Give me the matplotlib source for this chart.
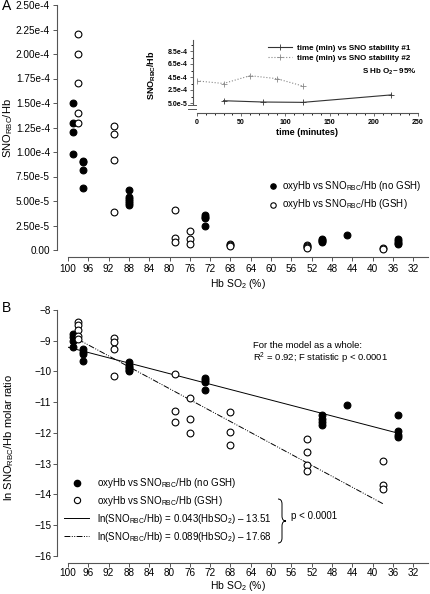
import matplotlib
matplotlib.use("Agg")
import matplotlib.pyplot as plt
from matplotlib.lines import Line2D
from matplotlib.path import Path
from matplotlib.patches import PathPatch
import numpy as np

plt.rcParams['font.family'] = ['Liberation Sans', 'DejaVu Sans']
plt.rcParams['mathtext.fontset'] = 'custom'
plt.rcParams['mathtext.rm'] = 'Liberation Sans'
plt.rcParams['mathtext.bf'] = 'Liberation Sans:bold'
plt.rcParams['mathtext.it'] = 'Liberation Sans:italic'

# ---- panel A : SNO_RBC/Hb vs Hb SO2 ----
so2_nogsh = [99, 99, 99, 99, 97, 97, 97, 97, 88, 88, 88, 88, 88, 88,
             73, 73, 73, 73, 50, 50, 50, 50, 45, 35, 35, 35, 35]
sno_nogsh = [1.50e-4, 1.30e-4, 1.20e-4, 0.98e-4, 0.91e-4, 0.90e-4, 0.82e-4, 0.63e-4,
             0.61e-4, 0.54e-4, 0.52e-4, 0.50e-4, 0.48e-4, 0.46e-4,
             0.36e-4, 0.34e-4, 0.33e-4, 0.25e-4,
             0.11e-4, 0.10e-4, 0.09e-4, 0.08e-4, 0.15e-4,
             0.11e-4, 0.09e-4, 0.07e-4, 0.06e-4]
so2_gsh = [98, 98, 98, 98, 98, 91, 91, 91, 91, 79, 79, 79, 76, 76, 76,
           68, 68, 68, 53, 53, 53, 53, 38, 38]
sno_gsh = [2.20e-4, 2.00e-4, 1.70e-4, 1.40e-4, 1.30e-4,
           1.27e-4, 1.18e-4, 0.92e-4, 0.39e-4,
           0.41e-4, 0.12e-4, 0.08e-4, 0.19e-4, 0.11e-4, 0.06e-4,
           0.06e-4, 0.05e-4, 0.04e-4, 0.05e-4, 0.04e-4, 0.03e-4, 0.02e-4,
           0.02e-4, 0.01e-4]
yticks_a = [0, 2.5e-5, 5e-5, 7.5e-5, 1e-4, 1.25e-4, 1.5e-4, 1.75e-4, 2e-4, 2.25e-4, 2.5e-4]
ytick_labels_a = ['0.00', '2.50e-5', '5.00e-5', '7.50e-5', '1.00e-4', '1.25e-4',
                  '1.50e-4', '1.75e-4', '2.00e-4', '2.25e-4', '2.50e-4']
xticks = list(range(100, 31, -4))

# inset: stability over time
time1 = [30, 75, 120, 220]
stab1 = [8.5e-5, 6.5e-5, 6.0e-5, 1.75e-4]
time2 = [0, 30, 60, 90, 120]
stab2 = [3.9e-4, 3.5e-4, 4.7e-4, 4.25e-4, 3.1e-4]
yticks_in = [5e-5, 2.5e-4, 4.5e-4, 6.5e-4, 8.5e-4]
ytick_labels_in = ['5.0e-5', '2.5e-4', '4.5e-4', '6.5e-4', '8.5e-4']

# ---- panel B : ln SNO_RBC/Hb vs Hb SO2 ----
ln_so2_nogsh = [99, 99, 99, 99, 97, 97, 97, 97, 88, 88, 88, 88, 88, 88,
                73, 73, 73, 73, 50, 50, 50, 50, 45, 35, 35, 35, 35]
ln_nogsh = [-8.77, -8.87, -9.0, -9.2, -9.27, -9.35, -9.42, -9.65,
            -9.7, -9.78, -9.85, -9.9, -9.95, -10.0,
            -10.2, -10.27, -10.33, -10.6,
            -11.4, -11.55, -11.65, -11.75, -11.1,
            -11.4, -11.95, -12.05, -12.13]
ln_so2_gsh = [98, 98, 98, 98, 98, 91, 91, 91, 91, 79, 79, 79, 76, 76, 76,
              68, 68, 68, 53, 53, 53, 53, 38, 38, 38]
ln_gsh = [-8.4, -8.5, -8.65, -8.85, -8.95, -8.92, -9.03, -9.27, -10.14,
          -10.08, -11.28, -11.64, -10.86, -11.55, -12.0,
          -11.31, -11.96, -12.39, -12.2, -12.62, -13.04, -13.23,
          -12.9, -13.7, -13.82]
fit_slope = [0.043, 0.089]
fit_icpt = [-13.51, -17.68]
fit_from = [100, 98]
fit_to = [35, 38]
yticks_b = list(range(-16, -7))

W, H = 430, 594
fig = plt.figure(figsize=(W / 100, H / 100), dpi=100)


def box(x0, y0, x1, y1):
    # pixel box (top-left origin) -> figure fraction rect
    return [x0 / W, 1 - y1 / H, (x1 - x0) / W, (y1 - y0) / H]


def fxy(x, y):
    return (x / W, 1 - y / H)


def style_axes(ax, left_off, bottom_off, size=7.2, pad=2):
    for s in ['top', 'right']:
        ax.spines[s].set_visible(False)
    for s in ['left', 'bottom']:
        ax.spines[s].set_color('#555555')
        ax.spines[s].set_linewidth(0.8)
    ax.spines['left'].set_position(('outward', left_off))
    ax.spines['bottom'].set_position(('outward', bottom_off))
    ax.tick_params(direction='out', length=3, width=0.7, color='#555555',
                   labelsize=size, pad=pad)
    ax.patch.set_visible(False)


mk = dict(s=24, linewidths=0.8, clip_on=False, zorder=3)

# panel A
axA = fig.add_axes(box(68, 5, 428, 250))
style_axes(axA, 8, 5)
axA.scatter(so2_nogsh, sno_nogsh, facecolor='black', edgecolor='black', **mk,
            label=r'oxyHb vs SNO$_{\mathrm{RBC}}$/Hb (no GSH)')
axA.scatter(so2_gsh, sno_gsh, facecolor='white', edgecolor='black', **mk,
            label=r'oxyHb vs SNO$_{\mathrm{RBC}}$/Hb (GSH)')
axA.set_xlim(100, 29.1)
axA.set_ylim(0, 2.5e-4)
axA.set_xticks(xticks)
axA.set_yticks(yticks_a)
axA.set_yticklabels(ytick_labels_a)
axA.legend(loc='upper left', bbox_to_anchor=fxy(268, 179), bbox_transform=fig.transFigure,
           frameon=False, fontsize=7, handlelength=1, handletextpad=0.4,
           labelspacing=0.45, borderpad=0, borderaxespad=0, markerscale=0.8)

# inset
axI = fig.add_axes(box(197, 40, 418, 113))
style_axes(axI, 3, 0, size=5)
axI.plot(time1, stab1, color='#333333', lw=0.8, marker='+', ms=4, mew=0.6,
         label='time (min) vs SNO stability #1')
axI.plot(time2, stab2, color='#888888', lw=0.8, ls=':', marker='+', ms=4, mew=0.6,
         label='time (min) vs SNO stability #2')
axI.set_xlim(0, 250)
axI.set_ylim(5e-5 - 10 * 2e-4 / 13, 5e-5 + 63 * 2e-4 / 13)
axI.spines['left'].set_bounds(3e-5, 5e-5 + 63 * 2e-4 / 13)
axI.set_xticks(range(0, 251, 50))
axI.set_xticks(range(0, 251, 10), minor=True)
axI.set_yticks(yticks_in)
axI.set_yticklabels(ytick_labels_in)
axI.set_yticks(np.arange(1.5e-4, 9.6e-4, 2e-4), minor=True)
axI.tick_params(which='both', length=2, width=0.6)
axI.tick_params(which='minor', length=1.2)
for lab in axI.get_xticklabels() + axI.get_yticklabels():
    lab.set_fontweight('bold')
axI.set_xlabel('time (minutes)', fontsize=6.5, fontweight='bold', labelpad=2)
axI.legend(loc='upper left', bbox_to_anchor=fxy(268, 44), bbox_transform=fig.transFigure,
           frameon=False, prop={'weight': 'bold', 'size': 5.8}, handlelength=3,
           handletextpad=0.6, labelspacing=0.35, borderpad=0, borderaxespad=0)
fig.text(*fxy(417, 72), r'S Hb O$_{\mathbf{2}}$~ 95%', fontsize=5.8, fontweight='bold',
         ha='right', va='center')
fig.text(*fxy(152, 75), r'SNO$_{\mathbf{RBC}}$/Hb', fontsize=6.5, fontweight='bold',
         rotation=90, ha='center', va='center')
# axis break marks on inset y axis
for yb in (105, 109):
    fig.add_artist(Line2D([188 / W, 196 / W], [1 - yb / H, 1 - yb / H],
                          transform=fig.transFigure, color='#555555', lw=0.7))

# panel B
axB = fig.add_axes(box(68, 310, 428, 556))
style_axes(axB, 8, 5, pad=1)
axB.scatter(ln_so2_nogsh, ln_nogsh, facecolor='black', edgecolor='black', **mk)
axB.scatter(ln_so2_gsh, ln_gsh, facecolor='white', edgecolor='black', **mk)
dashdot = (0, (6, 1.5, 1, 1.5, 1, 1.5))
for k, ls in enumerate(['-', dashdot]):
    xs = np.array([fit_from[k], fit_to[k]])
    axB.plot(xs, fit_slope[k] * xs + fit_icpt[k], color='black', lw=0.7, ls=ls)
axB.set_xlim(100, 29.1)
axB.set_ylim(-16, -8)
axB.set_xticks(xticks)
axB.set_yticks(yticks_b)

hB = [Line2D([], [], ls='none', marker='o', ms=4.5, mfc='black', mec='black'),
      Line2D([], [], ls='none', marker='o', ms=4.5, mfc='white', mec='black', mew=0.8),
      Line2D([], [], color='black', lw=0.7),
      Line2D([], [], color='black', lw=0.7, ls=dashdot)]
lB = [r'oxyHb vs SNO$_{\mathrm{RBC}}$/Hb (no GSH)',
      r'oxyHb vs SNO$_{\mathrm{RBC}}$/Hb (GSH)',
      r'ln(SNO$_{\mathrm{RBC}}$/Hb) = 0.043(HbSO$_2$) – 13.51',
      r'ln(SNO$_{\mathrm{RBC}}$/Hb) = 0.089(HbSO$_2$) – 17.68']
axB.legend(hB, lB, loc='upper left', bbox_to_anchor=fxy(64, 476),
           bbox_transform=fig.transFigure, frameon=False, fontsize=7,
           handlelength=2.6, handletextpad=0.8, labelspacing=0.4,
           borderpad=0, borderaxespad=0)

fig.text(*fxy(253, 345), 'For the model as a whole:', fontsize=6.8, va='center')
fig.text(*fxy(253, 358), r'R$^2$ = 0.92; F statistic p < 0.0001', fontsize=6.8, va='center')
fig.text(*fxy(291, 516), 'p < 0.0001', fontsize=7, va='center')

# curly brace next to the two fit equations
bx, by0, by1, bw = 278, 499, 543, 8
bm = (by0 + by1) / 2
r = 5
verts = [(bx, by0), (bx + bw / 2, by0), (bx + bw / 2, by0 + r),
         (bx + bw / 2, bm - r), (bx + bw / 2, bm), (bx + bw, bm),
         (bx + bw / 2, bm), (bx + bw / 2, bm + r),
         (bx + bw / 2, by1 - r), (bx + bw / 2, by1), (bx, by1)]
codes = [Path.MOVETO, Path.CURVE3, Path.CURVE3, Path.LINETO, Path.CURVE3, Path.CURVE3,
         Path.CURVE3, Path.CURVE3, Path.LINETO, Path.CURVE3, Path.CURVE3]
fig.add_artist(PathPatch(Path([fxy(x, y) for x, y in verts], codes),
                         transform=fig.transFigure, fill=False, lw=0.7, color='black'))

# titles / labels
fig.text(*fxy(2, 6), 'A', fontsize=10, va='center')
fig.text(*fxy(2, 308), 'B', fontsize=10, va='center')
fig.text(*fxy(8, 128), r'SNO$_{\mathrm{RBC}}$/Hb', fontsize=8, rotation=90,
         ha='center', va='center')
fig.text(*fxy(9, 437), r'ln SNO$_{\mathrm{RBC}}$/Hb molar ratio', fontsize=8,
         rotation=90, ha='center', va='center')
fig.text(*fxy(238, 284), r'Hb SO$_2$ (%)', fontsize=7.5, ha='center', va='center')
fig.text(*fxy(238, 586), r'Hb SO$_2$ (%)', fontsize=7.5, ha='center', va='center')

fig.savefig('out.png', dpi=100)
